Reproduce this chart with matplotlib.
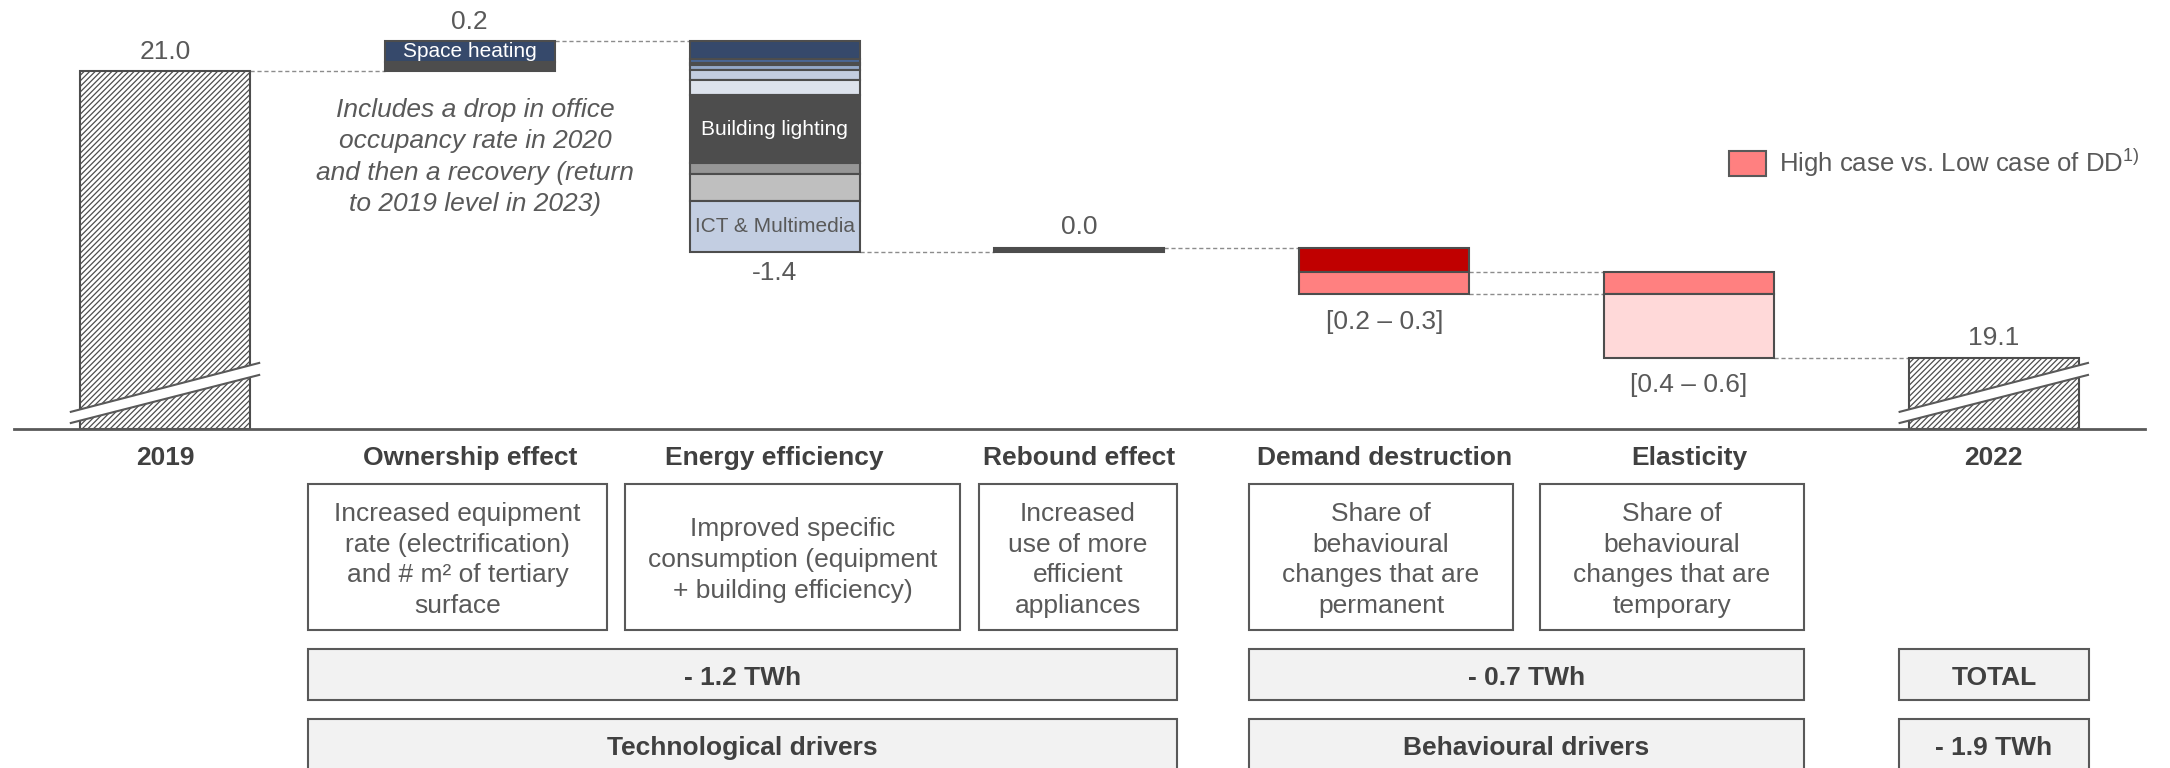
import matplotlib
matplotlib.use('Agg')
import matplotlib.pyplot as plt
import matplotlib.transforms as mtransforms
from matplotlib.patches import Rectangle, Polygon, Patch

plt.rcParams['font.family'] = ['Liberation Sans', 'DejaVu Sans']
plt.rcParams['mathtext.fontset'] = 'custom'
plt.rcParams['mathtext.rm'] = 'Liberation Sans'
plt.rcParams['hatch.linewidth'] = 0.9

# ---- data ----
categories = ['2019', 'Ownership effect', 'Energy efficiency', 'Rebound effect',
              'Demand destruction', 'Elasticity', '2022']
start_value = 21.0
end_value = 19.1

# segments listed top to bottom
ownership_values = [0.14, 0.06]
ownership_labels = ['Space heating', '']
ownership_colors = ['#36496b', '#4d4d4d']

efficiency_values = [0.12, 0.025, 0.015, 0.035, 0.065, 0.10, 0.45, 0.075, 0.175, 0.34]
efficiency_labels = ['', '', '', '', '', '', 'Building lighting', '', '', 'ICT & Multimedia']
efficiency_colors = ['#36496b', '#4a6897', '#6d86ad', '#95a8c8', '#c3cde0', '#dde3ed',
                     '#4d4d4d', '#969696', '#bfbfbf', '#c3cee2']

rebound_value = 0.03
dd_values = [0.16, 0.15]          # low case, high-case extra
dd_colors = ['#c00000', '#ff8080']
elasticity_values = [0.15, 0.42]  # high-case part, low case
elasticity_colors = ['#ff8080', '#ffd9d9']

value_labels = ['21.0', '0.2', '-1.4', '0.0', '[0.2 – 0.3]', '[0.4 – 0.6]', '19.1']

desc_texts = ['Increased equipment\nrate (electrification)\nand # m² of tertiary\nsurface',
              'Improved specific\nconsumption (equipment\n+ building efficiency)',
              'Increased\nuse of more\nefficient\nappliances',
              'Share of\nbehavioural\nchanges that are\npermanent',
              'Share of\nbehavioural\nchanges that are\ntemporary']
summary_row1 = ['- 1.2 TWh', '- 0.7 TWh', 'TOTAL']
summary_row2 = ['Technological drivers', 'Behavioural drivers', '- 1.9 TWh']
note_text = 'Includes a drop in office\noccupancy rate in 2020\nand then a recovery (return\nto 2019 level in 2023)'
legend_label = 'High case vs. Low case of DD$^{\\mathrm{1)}}$'

# ---- style ----
W, H = 2170, 768
TXT = '#595959'
DARK = '#404040'
EDGE = '#4d4d4d'
FS = 19
bw = 0.558

fig = plt.figure(figsize=(W / 100, H / 100), dpi=100)

# overlay in pixel coords for the boxes below the chart
lay = fig.add_axes([0, 0, 1, 1])
lay.set_xlim(0, W)
lay.set_ylim(H, 0)
lay.axis('off')

ax = fig.add_axes([0, 1 - 429 / H, 1, 429 / H])
ax.patch.set_alpha(0)
x0 = -165 / 304.8
ax.set_xlim(x0, x0 + W / 304.8)
ymin, ymax = 18.629, 21.47
ax.set_ylim(ymin, ymax)
for s in ax.spines.values():
    s.set_visible(False)
ax.set_yticks([])
ax.set_xticks(range(len(categories)))
ax.set_xticklabels(categories, fontsize=FS, fontweight='bold', color=DARK)
ax.tick_params(axis='x', length=0, pad=12)
ax.axhline(ymin, xmin=14 / W, xmax=2145 / W, color=TXT, lw=2, zorder=5, clip_on=False)

bar_kw = dict(width=bw, edgecolor=EDGE, linewidth=1.5, zorder=3)

def connector(i, j, y):
    ax.plot([i + bw / 2, j - bw / 2], [y, y], color='#8c8c8c', lw=1,
            dashes=(3, 2), zorder=1)

def label(i, y, text, above=True, off=5):
    ax.annotate(text, (i, y), xytext=(0, off if above else -off), textcoords='offset points',
                ha='center', va='bottom' if above else 'top', fontsize=FS, color=TXT)

def stack_down(i, top, values, colors, labels=None, text_colors=None):
    level = top
    for k, (v, c) in enumerate(zip(values, colors)):
        ax.bar(i, v, bottom=level - v, color=c, **bar_kw)
        if labels and labels[k]:
            ax.text(i, level - v / 2, labels[k], ha='center', va='center', fontsize=15,
                    color=text_colors[k], zorder=4)
        level -= v
    return level

# 2019 total
ax.bar(0, start_value - ymin, bottom=ymin, color='white', hatch='//////', **bar_kw)
label(0, start_value, value_labels[0])

# ownership effect (positive)
own_total = sum(ownership_values)
own_top = start_value + own_total
stack_down(1, own_top, ownership_values, ownership_colors, ownership_labels, ['white', 'white'])
connector(0, 1, start_value)
label(1, own_top, value_labels[1])

# energy efficiency (negative)
eff_text_colors = ['white'] * 6 + ['white', 'white', 'white', TXT]
level = stack_down(2, own_top, efficiency_values, efficiency_colors, efficiency_labels, eff_text_colors)
connector(1, 2, own_top)
label(2, level, value_labels[2], above=False, off=6)

# rebound effect
ax.bar(3, rebound_value, bottom=level, color=EDGE, width=bw, edgecolor=EDGE, linewidth=1.5, zorder=3)
connector(2, 3, level)
level += rebound_value
label(3, level, value_labels[3], off=6)

# demand destruction
dd_bottom = stack_down(4, level, dd_values, dd_colors)
connector(3, 4, level)
label(4, dd_bottom, value_labels[4], above=False, off=11)
level = level - dd_values[0]

# elasticity
el_bottom = stack_down(5, level, elasticity_values, elasticity_colors)
connector(4, 5, level)
connector(4, 5, dd_bottom)
label(5, el_bottom, value_labels[5], above=False, off=11)

# 2022 total
ax.bar(6, end_value - ymin, bottom=ymin, color='white', hatch='//////', **bar_kw)
connector(5, 6, end_value)
label(6, end_value, value_labels[6], off=6)

# axis-break marks on the total bars
trans = mtransforms.blended_transform_factory(ax.transData, ax.transAxes)
for i in (0, 6):
    xl, xr = i - bw / 2 - 0.03, i + bw / 2 + 0.03
    y1l, y1r, y2l, y2r = 0.040, 0.154, 0.014, 0.126
    ax.add_patch(Polygon([(xl, y1l), (xr, y1r), (xr, y2r), (xl, y2l)], closed=True,
                         facecolor='white', edgecolor='none', transform=trans, zorder=4))
    ax.plot([xl, xr], [y1l, y1r], color=TXT, lw=1.5, transform=trans, zorder=4)
    ax.plot([xl, xr], [y2l, y2r], color=TXT, lw=1.5, transform=trans, zorder=4)

# legend
leg = ax.legend([Patch(facecolor='#ff8080', edgecolor=TXT, linewidth=1.5)], [legend_label],
                loc='center left', bbox_to_anchor=(1729 / W, 1 - 163 / H),
                bbox_transform=fig.transFigure, frameon=False, fontsize=18.5,
                handlelength=1.45, handleheight=1.1, handletextpad=0.5, borderpad=0,
                borderaxespad=0)
for t in leg.get_texts():
    t.set_color(TXT)

# annotation
lay.text(475, 157, note_text, ha='center', va='center', fontsize=FS, style='italic',
         color=TXT, linespacing=1.4)

# description boxes
desc_x = [(308, 607), (625, 960), (979, 1177), (1249, 1513), (1540, 1804)]
for (a, b), t in zip(desc_x, desc_texts):
    lay.add_patch(Rectangle((a, 484), b - a, 146, facecolor='white', edgecolor=TXT, lw=1.5))
    lay.text((a + b) / 2, 560, t, ha='center', va='center', fontsize=FS, color=TXT,
             linespacing=1.36)

sum_x = [(308, 1177), (1249, 1804), (1899, 2089)]
for (a, b), t1, t2 in zip(sum_x, summary_row1, summary_row2):
    lay.add_patch(Rectangle((a, 649), b - a, 51, facecolor='#f2f2f2', edgecolor=TXT, lw=1.5))
    lay.text((a + b) / 2, 678, t1, ha='center', va='center', fontsize=FS,
             fontweight='bold', color=DARK)
    lay.add_patch(Rectangle((a, 719), b - a, 60, facecolor='#f2f2f2', edgecolor=TXT, lw=1.5,
                            clip_on=False))
    lay.text((a + b) / 2, 748, t2, ha='center', va='center', fontsize=FS,
             fontweight='bold', color=DARK)

fig.savefig('out.png', dpi=100)
